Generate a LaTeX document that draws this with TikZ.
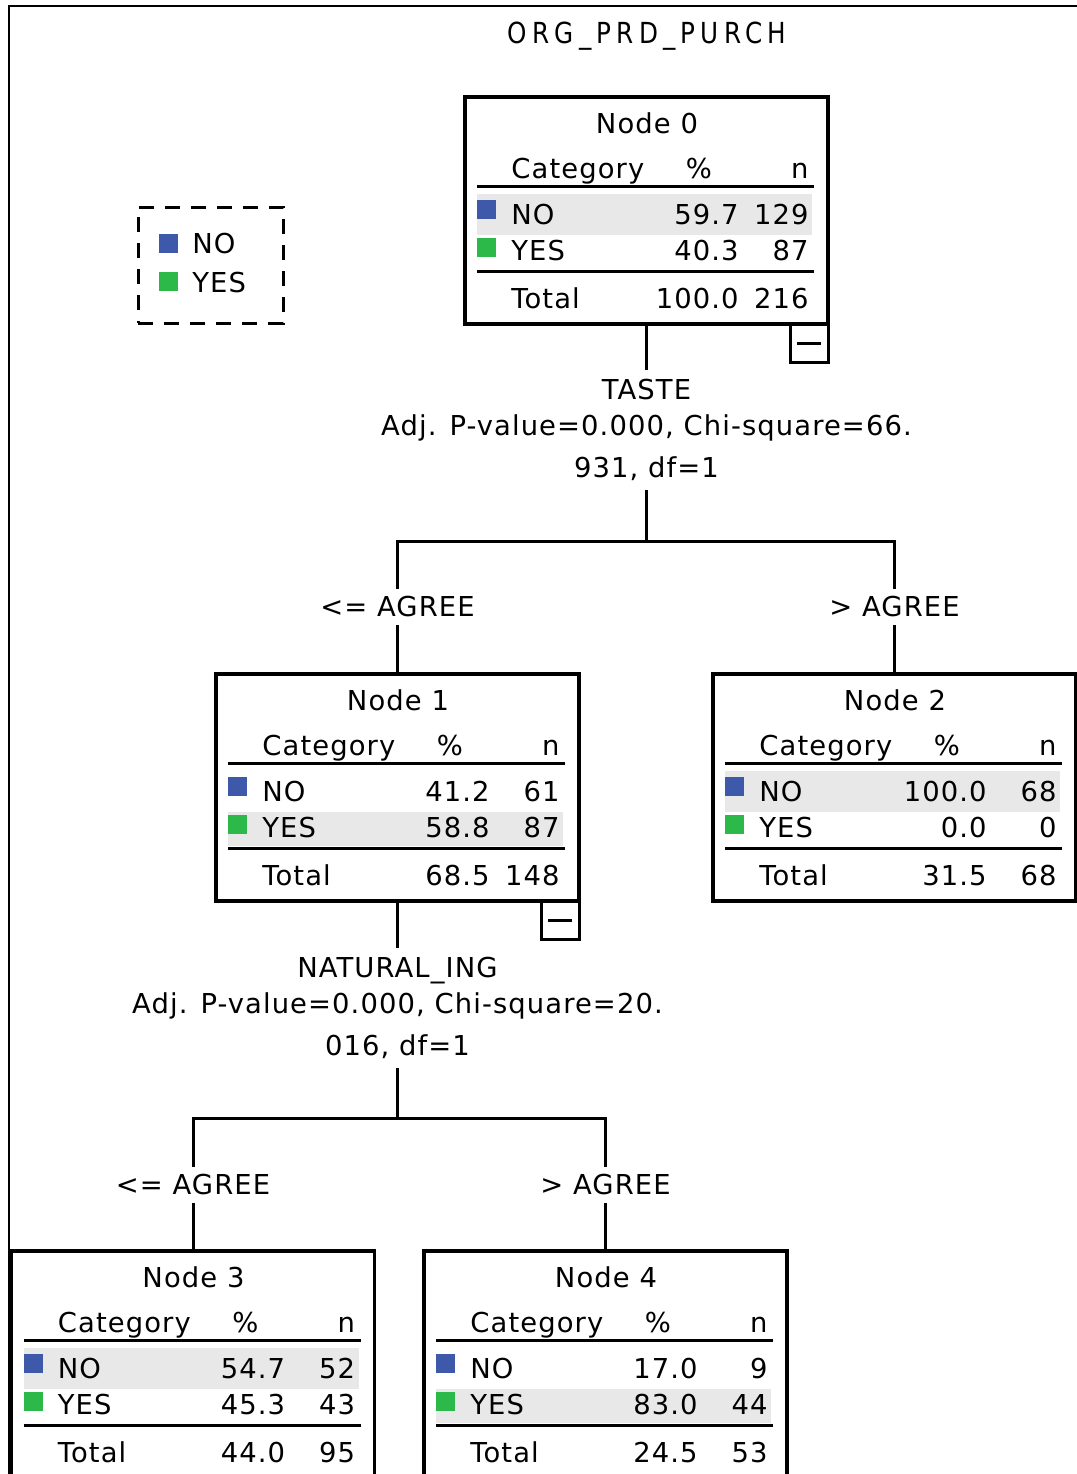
\documentclass[tikz,border=0pt]{standalone}
\usepackage{fontspec}
\setmainfont{DejaVu Sans}[LetterSpace=4]
\newfontfamily\titlefont{DejaVu Sans}[FakeStretch=0.85,LetterSpace=18]
\usetikzlibrary{calc}
\definecolor{ChaidBlue}{HTML}{3E58AA}
\definecolor{ChaidGreen}{HTML}{2DB84A}
\definecolor{ChaidRow}{HTML}{E8E8E8}

\tikzset{
  treebox/.style={draw,line width=1.6pt,minimum width=181.5pt,minimum height=113.5pt,inner sep=0pt,outer sep=0pt},
  foldbox/.style={draw,fill=white,line width=1.5pt,minimum size=19pt,inner sep=0pt,outer sep=0pt},
  branch/.style={line width=1.5pt},
  tablerule/.style={line width=1.5pt},
  splitlabel/.style={align=center,minimum height=60pt,inner sep=0pt},
  catlabel/.style={minimum height=17.5pt,inner sep=0pt},
  legendbox/.style={draw,dash pattern=on 7.5pt off 5.5pt,line width=1.5pt,minimum width=72.5pt,minimum height=58pt,inner sep=0pt}
}

% one CHAID node: name, title, NO %, NO n, YES %, YES n, total %, total n, shaded row
\newcommand{\nodetable}[9]{%
  \begin{scope}[shift={(#1.north west)}]
    \ifnum#9=1\relax
      \fill[ChaidRow] (12,97) rectangle (347,138);
    \else
      \fill[ChaidRow] (12,138) rectangle (347,172);
    \fi
    \node[anchor=base] (#1-title) at (182,36) {#2};
    \node[anchor=base west] (#1-cat) at (46,81) {Category};
    \node[anchor=base] (#1-pct) at (234,81) {\%};
    \node[anchor=base east] (#1-n) at (344,81) {n};
    \draw[tablerule] (12,89.5) -- (349,89.5);
    \fill[ChaidBlue] (12,103) rectangle (31,122);
    \node[anchor=base west] (#1-no) at (46,127) {NO};
    \node[anchor=base east] (#1-nop) at (274,127) {#3};
    \node[anchor=base east] (#1-non) at (344,127) {#4};
    \fill[ChaidGreen] (12,141) rectangle (31,160);
    \node[anchor=base west] (#1-yes) at (46,163) {YES};
    \node[anchor=base east] (#1-yesp) at (274,163) {#5};
    \node[anchor=base east] (#1-yesn) at (344,163) {#6};
    \draw[tablerule] (12,174.5) -- (349,174.5);
    \node[anchor=base west] (#1-tot) at (46,211) {Total};
    \node[anchor=base east] (#1-totp) at (274,211) {#7};
    \node[anchor=base east] (#1-totn) at (344,211) {#8};
  \end{scope}}

\begin{document}
\begin{tikzpicture}[x=0.5pt,y=-0.5pt,font=\fontsize{13.7}{18}\selectfont,inner sep=0pt]
  \useasboundingbox (0,0) rectangle (1077,1474);
  \clip (0,0) rectangle (1077,1474);
  \draw[line width=1pt] (1077,6) -- (9,6) -- (9,1480);
  \node[font=\titlefont\fontsize{14.5}{18}\selectfont,anchor=base] (title) at (647,43) {ORG\_PRD\_PURCH};

  % legend
  \node[legendbox] (legend) at (210.5,265) {};
  \fill[ChaidBlue] (159,234) rectangle (178,253);
  \node[anchor=base west] (legend-no) at (192,253) {NO};
  \fill[ChaidGreen] (159,272) rectangle (178,291);
  \node[anchor=base west] (legend-yes) at (192,292) {YES};

  % nodes
  \node[treebox] (n0) at (646.5,210.5) {};
  \nodetable{n0}{Node 0}{59.7}{129}{40.3}{87}{100.0}{216}{1}
  \node[foldbox,anchor=north east] (n0fold) at (n0.south east) {\rule[-0.75pt]{12pt}{1.5pt}};
  \node[treebox] (n1) at (397.5,787.5) {};
  \nodetable{n1}{Node 1}{41.2}{61}{58.8}{87}{68.5}{148}{2}
  \node[foldbox,anchor=north east] (n1fold) at (n1.south east) {\rule[-0.75pt]{12pt}{1.5pt}};
  \node[treebox] (n2) at (894.5,787.5) {};
  \nodetable{n2}{Node 2}{100.0}{68}{0.0}{0}{31.5}{68}{1}
  \node[treebox] (n3) at (193,1364.5) {};
  \nodetable{n3}{Node 3}{54.7}{52}{45.3}{43}{44.0}{95}{1}
  \node[treebox] (n4) at (605.5,1364.5) {};
  \nodetable{n4}{Node 4}{17.0}{9}{83.0}{44}{24.5}{53}{2}

  % first split
  \node[splitlabel] (s0) at (646.5,430) {TASTE\\Adj. P-value=0.000, Chi-square=66.\\[3pt]931, df=1};
  \coordinate (j0) at (646.5,541);
  \node[catlabel] (c1) at (397.5,607) {<= AGREE};
  \node[catlabel] (c2) at (894.5,607) {> AGREE};
  \draw[branch] (n0.south) -- (s0.north);
  \draw[branch] (s0.south) -- (j0);
  \draw[branch] (c1.north) |- (j0) -| (c2.north);
  \draw[branch] (c1.south) -- (n1.north);
  \draw[branch] (c2.south) -- (n2.north);

  % second split
  \node[splitlabel] (s1) at (397.5,1008) {NATURAL\_ING\\Adj. P-value=0.000, Chi-square=20.\\[3pt]016, df=1};
  \coordinate (j1) at (397.5,1118);
  \node[catlabel] (c3) at (193,1185) {<= AGREE};
  \node[catlabel] (c4) at (605.5,1185) {> AGREE};
  \draw[branch] (n1.south) -- (s1.north);
  \draw[branch] (s1.south) -- (j1);
  \draw[branch] (c3.north) |- (j1) -| (c4.north);
  \draw[branch] (c3.south) -- (n3.north);
  \draw[branch] (c4.south) -- (n4.north);
\end{tikzpicture}
\end{document}
